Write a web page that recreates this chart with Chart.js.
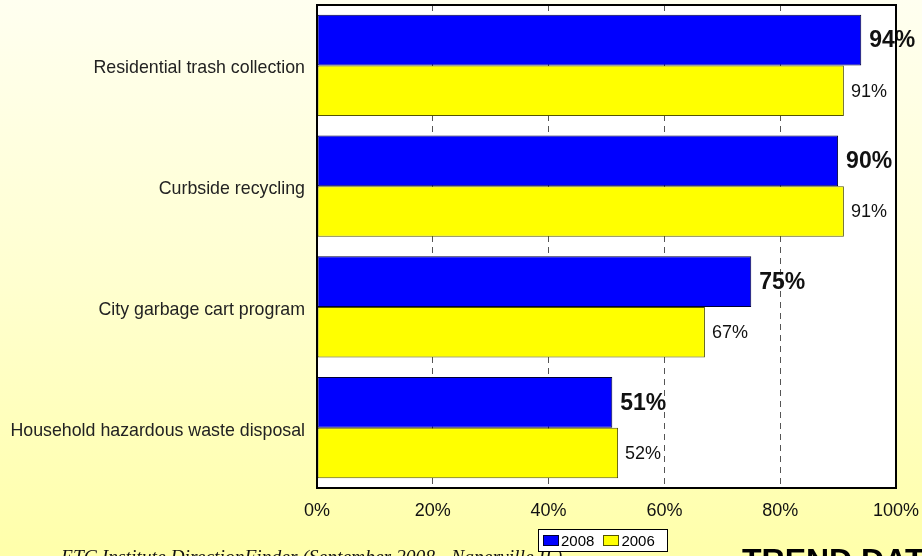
<!DOCTYPE html>
<html>
<head>
<meta charset="utf-8">
<script src="https://cdn.jsdelivr.net/npm/chart.js@4"></script>
<style>
  html, body { margin: 0; padding: 0; }
  body {
    width: 922px; height: 556px; overflow: hidden; position: relative;
    background: linear-gradient(to bottom, #fffff0 0%, #ffffd0 50%, #ffffaa 100%);
    font-family: "Liberation Sans", Arial, sans-serif;
  }
  #wrap { position: absolute; left: 0; top: 0; width: 922px; height: 556px; }
  #legend {
    position: absolute; left: 538px; top: 529px; width: 130px; height: 23px;
    background: #fff; border: 1px solid #000; font-size: 15px; color: #000;
    display: flex; align-items: center; padding-left: 4px; box-sizing: border-box;
  }
  #legend span.box { display: inline-block; width: 16px; height: 11px; margin-right: 2px; box-sizing: border-box; }
  #legend span.item { margin-right: 9px; display: inline-flex; align-items: center; }
  #source {
    position: absolute; left: 61px; top: 547px; font-family: "Liberation Serif", "Times New Roman", serif;
    font-style: italic; font-size: 19.5px; line-height: 1; color: #111; white-space: nowrap;
  }
  #trend {
    position: absolute; left: 742px; top: 544px; font-weight: bold; font-size: 32px;
    line-height: 1; color: #000; white-space: nowrap;
  }
</style>
</head>
<body>
<div id="wrap"><canvas id="chart" width="922" height="556"></canvas></div>
<div id="source">ETC Institute DirectionFinder (September 2008 - Naperville IL)</div>
<div id="legend"></div>
<div id="trend">TREND DATA</div>
<script>
// data
var services = ["Residential trash collection", "Curbside recycling", "City garbage cart program", "Household hazardous waste disposal"];
var values2008 = [94, 90, 75, 51];
var values2006 = [91, 91, 67, 52];
var xTicks = [0, 20, 40, 60, 80, 100];

var ctx = document.getElementById("chart").getContext("2d");

// white plot area + black frame
var plotFrame = {
    id: "plotFrame",
    beforeDraw: function (chart) {
        var a = chart.chartArea, c = chart.ctx;
        c.save();
        c.fillStyle = "#ffffff";
        c.fillRect(a.left, a.top, a.right - a.left, a.bottom - a.top);
        c.restore();
    },
    afterDraw: function (chart) {
        var a = chart.chartArea, c = chart.ctx;
        c.save();
        c.strokeStyle = "#000";
        c.lineWidth = 2;
        c.strokeRect(a.left, a.top, a.right - a.left, a.bottom - a.top);
        c.restore();
    }
};

// value labels at the end of each bar
var valueLabels = {
    id: "valueLabels",
    afterDatasetsDraw: function (chart) {
        var c = chart.ctx;
        c.save();
        c.textBaseline = "middle";
        c.textAlign = "left";
        c.fillStyle = "#111";
        chart.data.datasets.forEach(function (ds, i) {
            var meta = chart.getDatasetMeta(i);
            c.font = i === 0 ? "bold 23px 'Liberation Sans', Arial" : "18px 'Liberation Sans', Arial";
            meta.data.forEach(function (bar, j) {
                c.fillText(ds.data[j] + "%", bar.x + (i === 0 ? 8 : 7), bar.y + 1);
            });
        });
        c.restore();
    }
};

var chart = new Chart(ctx, {
    type: "bar",
    data: {
        labels: services,
        datasets: [{
            label: "2008",
            data: values2008,
            backgroundColor: "#0000ff",
            borderColor: "#000033",
            borderWidth: 1,
            borderSkipped: false,
            barPercentage: 1.0,
            categoryPercentage: 0.84
        }, {
            label: "2006",
            data: values2006,
            backgroundColor: "#ffff00",
            borderColor: "#555500",
            borderWidth: 1,
            borderSkipped: false,
            barPercentage: 1.0,
            categoryPercentage: 0.84
        }]
    },
    options: {
        indexAxis: "y",
        responsive: false,
        animation: false,
        layout: { padding: { left: 0, right: 26, top: 5, bottom: 0 } },
        plugins: {
            legend: { display: false },
            tooltip: { enabled: false }
        },
        scales: {
            x: {
                min: 0,
                max: 100,
                afterBuildTicks: function (scale) {
                    scale.ticks = xTicks.map(function (v) { return { value: v }; });
                },
                afterFit: function (scale) {
                    scale.height = 68;
                    scale.paddingLeft = 0;
                    scale.paddingRight = 0;
                },
                grid: {
                    drawTicks: false,
                    lineWidth: 1,
                    color: function (c) {
                        return (c.tick && (c.tick.value === 0 || c.tick.value === 100)) ? "rgba(0,0,0,0)" : "#555";
                    }
                },
                border: { display: false, dash: [6, 5] },
                ticks: {
                    padding: 12,
                    color: "#111",
                    font: { size: 18, family: "'Liberation Sans', Arial" },
                    callback: function (v) { return v + "%"; }
                }
            },
            y: {
                afterFit: function (scale) {
                    scale.width = 317;
                    scale.paddingTop = 0;
                    scale.paddingBottom = 0;
                },
                grid: { display: false, drawTicks: false },
                border: { display: false },
                ticks: {
                    padding: 12,
                    labelOffset: 3,
                    color: "#222",
                    font: { size: 17.8, family: "'Liberation Sans', Arial" }
                }
            }
        }
    },
    plugins: [plotFrame, valueLabels]
});

// legend box built from the datasets
var legend = document.getElementById("legend");
chart.data.datasets.forEach(function (ds) {
    var item = document.createElement("span");
    item.className = "item";
    var box = document.createElement("span");
    box.className = "box";
    box.style.background = ds.backgroundColor;
    box.style.border = "1px solid " + ds.borderColor;
    item.appendChild(box);
    item.appendChild(document.createTextNode(ds.label));
    legend.appendChild(item);
});
</script>
</body>
</html>
